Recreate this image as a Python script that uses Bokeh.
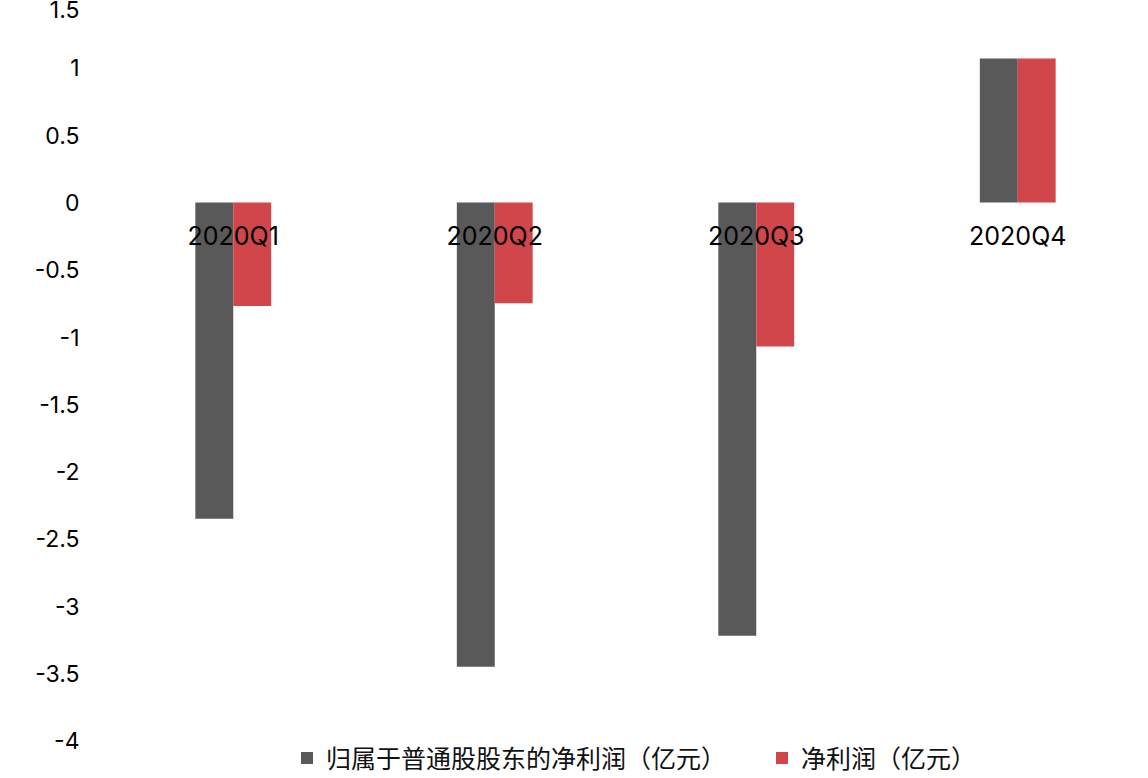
from bokeh.plotting import figure
from bokeh.models import ColumnDataSource, FactorRange, Range1d, FixedTicker, CustomJSTickFormatter, Legend, LegendItem
from bokeh.transform import dodge
from bokeh.embed import file_html
from bokeh.resources import INLINE

categories = ["2020Q1", "2020Q2", "2020Q3", "2020Q4"]
parent_profit = [-2.35, -3.45, -3.22, 1.07]
net_profit = [-0.77, -0.75, -1.07, 1.07]
y_ticks = [-4, -3.5, -3, -2.5, -2, -1.5, -1, -0.5, 0, 0.5, 1, 1.5]
series_names = ["归属于普通股股东的净利润（亿元）", "净利润（亿元）"]
colors = ["#595959", "#d0464b"]

source = ColumnDataSource(data=dict(cat=categories, a=parent_profit, b=net_profit))

p = figure(
    x_range=FactorRange(*categories, range_padding=0),
    y_range=Range1d(-4.28, 1.5),
    width=1148, height=778,
    output_backend="svg", toolbar_location=None,
    min_border_left=102, min_border_right=0, min_border_top=0, min_border_bottom=0,
)
p.outline_line_color = None
p.grid.visible = False

bar_w = 0.145
r1 = p.vbar(x=dodge("cat", -bar_w / 2, range=p.x_range), top="a", bottom=0, width=bar_w,
            source=source, fill_color=colors[0], line_color=None)
r2 = p.vbar(x=dodge("cat", bar_w / 2, range=p.x_range), top="b", bottom=0, width=bar_w,
            source=source, fill_color=colors[1], line_color=None)

# y axis
p.yaxis.ticker = FixedTicker(ticks=y_ticks)
p.yaxis.formatter = CustomJSTickFormatter(code="return String(tick)")
p.yaxis.axis_line_color = None
p.yaxis.major_tick_line_color = None
p.yaxis.minor_tick_line_color = None
p.yaxis.major_label_text_font = "Inter"
p.yaxis.major_label_text_font_size = "23px"
p.yaxis.major_label_text_color = "#000000"
p.yaxis.major_label_standoff = 17

# x axis at zero
p.xaxis.fixed_location = 0
p.xaxis.axis_line_color = None
p.xaxis.major_tick_line_color = None
p.xaxis.minor_tick_line_color = None
p.xaxis.major_label_text_font = "Inter"
p.xaxis.major_label_text_font_size = "25px"
p.xaxis.major_label_text_color = "#000000"
p.xaxis.major_label_standoff = 13

legend = Legend(
    items=[LegendItem(label=series_names[0], renderers=[r1]),
           LegendItem(label=series_names[1], renderers=[r2])],
    orientation="horizontal",
    location=(197, 3),
    border_line_color=None, background_fill_alpha=0,
    padding=0, margin=0, spacing=48,
    glyph_width=15, glyph_height=15, label_standoff=12,
    label_text_font="Noto Sans CJK SC", label_text_font_size="25px",
    label_text_color="#111111",
)
p.add_layout(legend, "center")

open("out.html", "w").write(file_html(p, INLINE))
